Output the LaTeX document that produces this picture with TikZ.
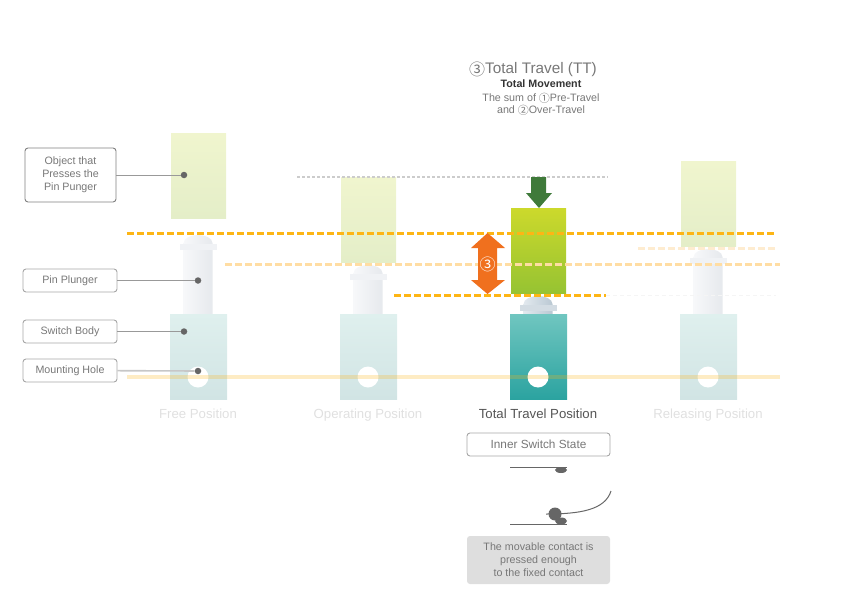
\documentclass[tikz,border=0pt]{standalone}
\usepackage{fontspec}
\setmainfont{Liberation Sans}
\newfontfamily\symfont{Noto Sans CJK JP}
\usepackage{xcolor}
\definecolor{swgray}{HTML}{777777}
\definecolor{swdark}{HTML}{555555}
\definecolor{swdot}{HTML}{666666}
\definecolor{swamber}{HTML}{FDB515}
\definecolor{swamberlt}{HTML}{FFDDA3}
\definecolor{swamberxl}{HTML}{FEECD0}
\definecolor{swpush}{HTML}{3F7A3A}
\definecolor{swtravel}{HTML}{F0701E}
\definecolor{flgfadecol}{HTML}{F0F2F5}
\definecolor{flglivecol}{HTML}{D3DCE3}
\usetikzlibrary{arrows.meta,positioning}
\tikzset{
  lbl/.style={font=\fontsize{10.7}{13}\selectfont, text=swgray, align=center},
  tag/.style={lbl, draw=black!35, rounded corners=3pt, line width=0.9pt, inner sep=0pt, minimum width=94pt, minimum height=23pt},
  posname/.style={font=\fontsize{13.2}{15}\selectfont, anchor=base},
  dotmark/.style={circle, fill=swdot, inner sep=0pt, minimum size=6.5pt},
  leader/.style={black!40, line width=1pt},
  amberdash/.style={line width=3pt, dash pattern=on 6.5pt off 3.5pt},
  objfade/.style={top color={rgb,255:red,240;green,245;blue,206}, bottom color={rgb,255:red,228;green,238;blue,200}},
  objlive/.style={top color={rgb,255:red,204;green,217;blue,44}, bottom color={rgb,255:red,150;green,195;blue,50}},
  bodyfade/.style={top color={rgb,255:red,223;green,240;blue,238}, bottom color={rgb,255:red,209;green,228;blue,228}},
  bodylive/.style={top color={rgb,255:red,112;green,198;blue,192}, bottom color={rgb,255:red,43;green,163;blue,160}},
  plgfade/.style={left color={rgb,255:red,247;green,248;blue,250}, right color={rgb,255:red,230;green,233;blue,237}},
  plglive/.style={left color={rgb,255:red,226;green,233;blue,238}, right color={rgb,255:red,186;green,200;blue,211}},
}
\newcommand{\circnum}[2]{\raisebox{-0.1em}{\fontsize{#1}{#1}\symfont #2}}

\begin{document}
\begin{tikzpicture}[x=1pt, y=-1pt]
\useasboundingbox (0,0) rectangle (842,596);
% the four positions
\foreach \cx/\oy/\py/\st in {198/133/235/fade,368/177/265/fade,538/208/296/live,708/161/249/fade} {
  \shade[obj\st] (\cx-27,\oy+0.5) rectangle (\cx+28,\oy+85);
  \shade[plg\st] (\cx-14.5,\py+8) .. controls (\cx-14.5,\py+3) and (\cx-7,\py) .. (\cx,\py)
    .. controls (\cx+7,\py) and (\cx+14.5,\py+3) .. (\cx+14.5,\py+8) -- (\cx+14.5,314) -- (\cx-14.5,314) -- cycle;
  \fill[flg\st col] (\cx-18.5,\py+8.5) rectangle (\cx+18.5,\py+14.5);
  \shade[body\st] (\cx-28,314) rectangle (\cx+29,399);
  \fill[white] (\cx,377) circle (10.5pt);
}
% travel levels
\draw[swamber, amberdash] (127,233) -- (777,233);
\draw[swamberlt, amberdash] (225,264) -- (780,264);
\draw[swamberxl, amberdash] (638,248) -- (777,248);
\draw[swamber, amberdash] (394,295) -- (606,295);
\draw[black!4, line width=1pt, dash pattern=on 4pt off 3pt] (606,295) -- (776,295);
\draw[black!20, line width=1.2pt, dash pattern=on 3pt off 2pt] (297,177) -- (608,177);
\draw[swamber, opacity=0.25, line width=4pt] (127,377) -- (780,377);
% the push and the travel arrows
\fill[swpush] (531,177) -- (546,177) -- (546,193) -- (552,193) -- (539,208) -- (526,193) -- (531,193) -- cycle;
\fill[swtravel] (487.5,233) -- (505,248) -- (497,248) -- (497,280) -- (505,280) -- (487.5,294)
  -- (471,280) -- (478,280) -- (478,248) -- (471,248) -- cycle;
\node[text=white, font=\fontsize{16}{18}\symfont, inner sep=0pt] (travelmark) at (487.5,264) {③};
% heading
\node[lbl, font=\fontsize{15.3}{17}\selectfont, inner sep=0pt, anchor=base] (title) at (533,73.5) {\circnum{16}{③}Total Travel (TT)};
\node[lbl, font=\fontsize{10.7}{13}\bfseries, text=black!80, inner sep=0pt, anchor=base] (subtitle) at (541,88) {Total Movement};
\node[lbl, font=\fontsize{10.7}{12.5}\selectfont, inner sep=0pt] (sumtext) at (541,104.5) {The sum of \circnum{11}{①}Pre-Travel\\and \circnum{11}{②}Over-Travel};
% part labels
\node[tag, draw=black!50, minimum width=91pt, minimum height=54pt] (objecttag) at (70.5,175) {Object that\\Presses the\\Pin Punger};
\node[tag] (plungertag) at (70,280.5) {Pin Plunger};
\node[tag] (bodytag) at (70,331.5) {Switch Body};
\node[tag] (holetag) at (70,370.5) {Mounting Hole};
\node[dotmark] (objectdot) at (184,175) {};
\node[dotmark] (plungerdot) at (198,280.5) {};
\node[dotmark] (bodydot) at (184,331.5) {};
\node[dotmark] (holedot) at (198,371) {};
\draw[leader] (objecttag) -- (objectdot);
\draw[leader] (plungertag) -- (plungerdot);
\draw[leader] (bodytag) -- (bodydot);
\draw[black!22, line width=1.6pt] (holetag) -- (holedot);
% position names
\node[posname, text=black!12] (freename) at (198,418.5) {Free Position};
\node[posname, text=black!12] (operatename) at (368,418.5) {Operating Position};
\node[posname, text=swdark] (totalname) at (538,418.5) {Total Travel Position};
\node[posname, text=black!12] (releasename) at (708,418.5) {Releasing Position};
% inner switch state
\node[tag, font=\fontsize{11.8}{14}\selectfont, minimum width=143pt] (innertag) at (538.5,444.5) {Inner Switch State};
\coordinate (upperleft) at (510,467);
\coordinate (upperright) at (567,467);
\coordinate (lowerleft) at (510,524);
\coordinate (lowerright) at (567,524);
\draw[swdot, line width=1pt] (upperleft) -- (upperright);
\draw[swdot, line width=1pt] (lowerleft) -- (lowerright);
\fill[swdot] (561,470) ellipse[x radius=6pt, y radius=3pt];
\fill[swdot] (561,521) ellipse[x radius=6pt, y radius=3.5pt];
\draw[swdot, line width=1pt] (546,514) .. controls (580,514) and (605,510) .. (611,491);
\fill[swdot] (555,514) circle (6.5pt);
\node[lbl, fill=black!13, rounded corners=3pt, inner sep=0pt, minimum width=143pt, minimum height=48pt] (statenote) at (538.5,560) {The movable contact is\\pressed enough\\to the fixed contact};
\end{tikzpicture}
\end{document}
